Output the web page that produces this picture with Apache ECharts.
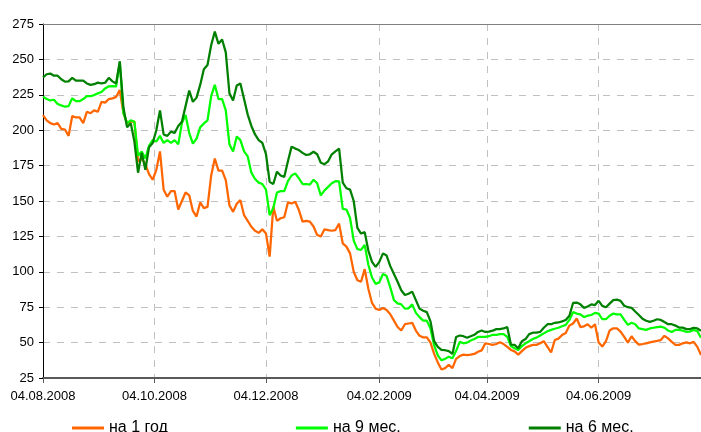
<!DOCTYPE html>
<html><head><meta charset="utf-8">
<script src="https://cdn.jsdelivr.net/npm/echarts@6/dist/echarts.min.js"></script>
<style>html,body{margin:0;padding:0;background:#fff}#c{width:701px;height:432px}</style>
</head><body><div id="c"></div>
<script>
// Calendar axis: one category per day, 04.08.2008 .. 30.07.2009
const startDate = '2008-08-04';
const endDate = '2009-07-30';
const sampleStepDays = 2;   // series values are read every 2 calendar days from startDate
const tickLabels = ['04.08.2008','04.10.2008','04.12.2008','04.02.2009','04.04.2009','04.06.2009'];
const seriesNames = ['на 1 год','на 9 мес.','на 6 мес.'];

const year1 = [
 210.7,207,205,204,205,201,200.5,196,210,209,
 209,205,213,212,214,213,220,219.5,222,222.5,
 223.5,228.4,212,205,206,206,178,180,176,169,
 165,172,185,158,153,157,157,144,150,156,
 154,143,139,149,145,145.8,168,180,171.5,171.5,
 164.8,147,142.3,148,150.6,140,136,131.8,129,127.5,
 130,127,110.7,146,136,137.8,138.5,149,148.3,149.5,
 143.6,135.4,136,135.4,132,126,125,130,129.5,129,
 129.5,134,120,117.8,113,100,94,93,101.9,88,
 78,74,73,74.5,73,70,65.5,61,58.5,63,
 63.5,64,58.5,54.8,53.7,53.7,50,42,36,31,
 32,34.3,32,38.5,40.5,41.5,41.2,41.5,42,43.5,
 44.5,49.5,49,48.4,49,50.2,49,47,44.8,43.8,
 41.5,44,46.3,47.5,48.4,48.4,49.5,51,47,43,
 51.8,52.8,55.4,56.8,62,63.5,67,61,61.5,63,
 60.5,63,50,47.2,51,58.5,60.1,60.1,57.8,54,
 50,54.5,51,48.6,49,49.5,50.2,50.7,51.2,51.8,
 54.8,53,50.5,48.4,48.4,49.5,50.2,49.5,50.5,47,
 41.3
];
const months9 = [
 223.7,222,221,221.5,218.5,217.5,216.6,217,222.5,220.5,
 220.5,222,224,224,224.8,226,227,229.5,231,231.2,
 231,248.4,212,205,207,206,182,185,180,189,
 193,192,196,191,193,191,193,190,205,210.7,
 198,190.5,194,202,204.8,207,224,232,222,222,
 214,190,185,195.5,193,185,181.5,170,165.5,163,
 162,158,140,145,156,157,157,164,168,169.5,
 166,162,162,161.6,165,162.5,154,157.5,160,162.5,
 164,163.9,144.5,144,138,122,116,115.5,119,105,
 96,91.5,92.5,98.5,97,89,80,77.7,77,74,
 74.2,77,71,68,65.5,65.5,60,48,41,37.5,
 38.5,40,39,44,50.5,49.5,50,51.5,52.5,54,
 54,54,54.5,55.5,55.5,56,56,54,47.5,46,
 44.8,47.5,49.5,51,52.5,53.5,55,56.5,58,59,
 59.8,60.5,61.5,62.5,66,71.5,70.5,70,68,69,
 69.5,71,70.5,66.5,66.5,69,70.5,70,70,66,
 62.5,64,63,60,59.5,59,60,60.5,61,61.3,
 60.5,58.5,57.5,59,59,58.5,57.5,57.8,59,58,
 53.5
];
const months6 = [
 237.3,239.5,240,238.5,238.5,236,234.3,234.5,237,235,
 235,235,233,232,232.5,233.6,233,233.5,237,234.5,
 233,248.6,216,202,205,192,170,184,172,188,
 191,200,214,197,196,199,198,203,206,217,
 228,220,223,232,243,246,260,269.6,261,264,
 255,226,221,231.5,233,222,211,203,197,193,
 191,183,163.5,162,170.7,168,167,178,188.4,187,
 186,184,182.5,183,184.8,183,177,176,178,183,
 185,187,163,159,158,150,131,127,128,115,
 107,103.5,107,113,111.5,104,98.5,93,87,83.6,
 84.5,86,80,74,72.5,71.5,65,51,47,44.8,
 44.6,44,42,54,55,54.5,53.4,54.5,55.5,57.5,
 58.5,57.5,57.8,58.4,59.5,59.5,60,61,48.5,48.4,
 46,51,52.5,56,57,57.1,57.5,60.5,63,63,
 64,64.2,65,66,69,78,78.3,77,74.5,75.5,
 77,76.5,79.5,75.9,75,77.5,80,80.3,79.5,76,
 75,74.6,72,69.5,66.8,65.4,64.6,65.4,66.5,66,
 64.5,63,63,62,60.6,60.6,59.5,59.5,60.5,60,
 58.3
];
const seriesColors = ['#FF6600','#00FF00','#008000'];

function fmt(dt){
  const p = n => String(n).padStart(2,'0');
  return p(dt.getUTCDate())+'.'+p(dt.getUTCMonth()+1)+'.'+dt.getUTCFullYear();
}
const categories = [];
for (let t = Date.parse(startDate+'T00:00:00Z'); t <= Date.parse(endDate+'T00:00:00Z'); t += 86400000) {
  categories.push(fmt(new Date(t)));
}
const isTick = (idx, val) => tickLabels.indexOf(val) >= 0;
const toPairs = arr => arr.map((v, i) => [i * sampleStepDays, v]);
const font = "'Liberation Sans', Arial, sans-serif";
const gridLine = {color:'#c0c0c0', width:1, type:[7,7]};

const chart = echarts.init(document.getElementById('c'), null, {renderer:'canvas'});
chart.setOption({
  animation:false,
  backgroundColor:'#ffffff',
  grid:{left:43, right:0, top:24, bottom:54, show:false, outerBoundsMode:'none', containLabel:false},
  legend:{
    data:seriesNames, left:72, top:420, padding:0, itemWidth:32, itemHeight:3, itemGap:128,
    icon:'rect', selectedMode:false,
    textStyle:{fontSize:16, color:'#000', fontFamily:font}
  },
  xAxis:[{
    type:'category', data:categories, boundaryGap:false,
    axisLine:{show:true, lineStyle:{color:'#595959', width:2}},
    axisTick:{show:true, interval:isTick, length:5, lineStyle:{color:'#595959', width:1}},
    axisLabel:{interval:isTick, margin:12, color:'#000', fontSize:13, fontFamily:font},
    splitLine:{show:true, interval:isTick, lineStyle:gridLine}
  },{
    type:'category', data:categories, boundaryGap:false, position:'top',
    axisLine:{show:true, lineStyle:{color:'#808080', width:1}},
    axisTick:{show:false}, axisLabel:{show:false}, splitLine:{show:false}
  }],
  yAxis:{
    type:'value', min:25, max:275, interval:25,
    axisLine:{show:true, lineStyle:{color:'#000', width:1}},
    axisTick:{show:true, length:4, lineStyle:{color:'#000'}},
    axisLabel:{margin:9, color:'#000', fontSize:13, fontFamily:font},
    splitLine:{show:true, lineStyle:gridLine}
  },
  series:[year1, months9, months6].map((arr, k) => ({
    name:seriesNames[k], type:'line', data:toPairs(arr), xAxisIndex:0,
    showSymbol:false, symbol:'none', silent:true,
    lineStyle:{color:seriesColors[k], width:2.25},
    itemStyle:{color:seriesColors[k]},
    emphasis:{disabled:true}
  }))
});
</script></body></html>
